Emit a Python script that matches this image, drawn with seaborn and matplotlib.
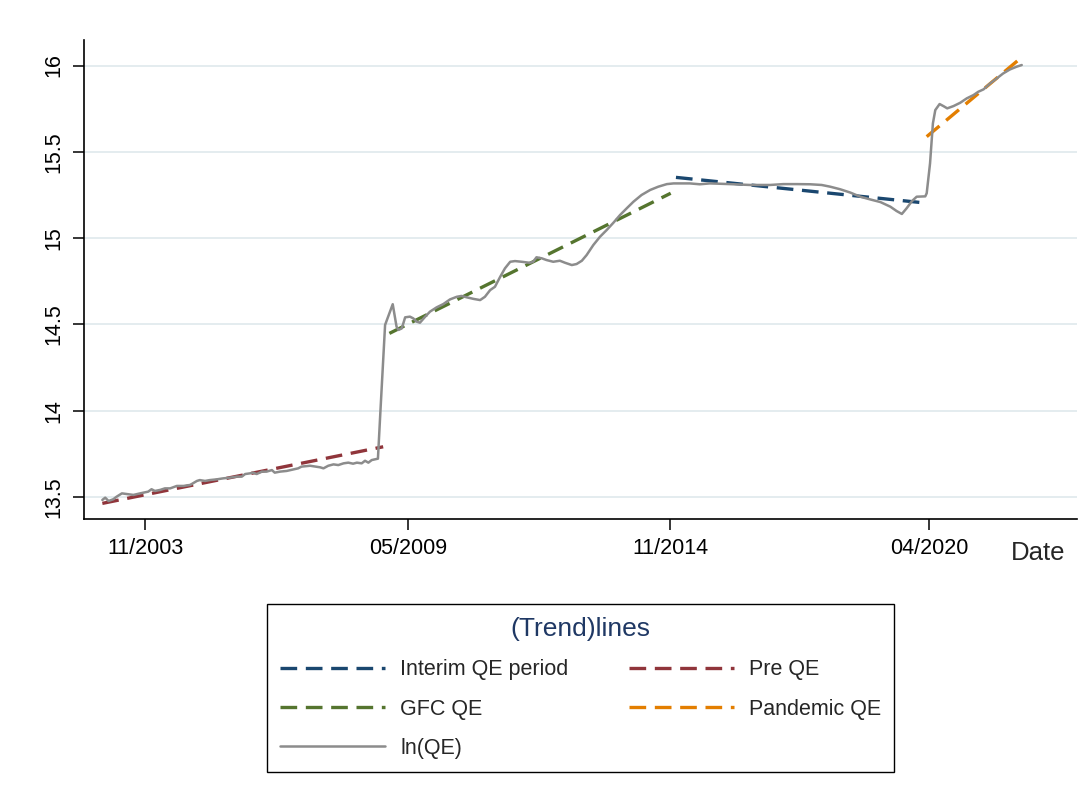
import matplotlib
matplotlib.use("Agg")
import matplotlib.pyplot as plt
import pandas as pd
import seaborn as sns

# ln(QE) series; x positions are decimal years
qe_year = [
    2002.94, 2003.00, 2003.07, 2003.17, 2003.24, 2003.35, 2003.45, 2003.59, 2003.73, 2003.90,
    2003.97, 2004.04, 2004.15, 2004.25, 2004.36, 2004.50, 2004.64, 2004.78, 2004.92, 2004.98,
    2005.09, 2005.19, 2005.33, 2005.47, 2005.61, 2005.75, 2005.86, 2005.93, 2006.03, 2006.10,
    2006.17, 2006.28, 2006.38, 2006.49, 2006.55, 2006.66, 2006.80, 2006.94, 2007.04, 2007.11,
    2007.29, 2007.50, 2007.57, 2007.67, 2007.78, 2007.88, 2007.99, 2008.09, 2008.19, 2008.27,
    2008.37, 2008.44, 2008.51, 2008.58, 2008.65, 2008.71, 2008.76, 2008.86, 2009.02, 2009.10,
    2009.14, 2009.21, 2009.28, 2009.38, 2009.45, 2009.52, 2009.59, 2009.70, 2009.80, 2009.94,
    2010.08, 2010.22, 2010.36, 2010.46, 2010.57, 2010.71, 2010.85, 2010.95, 2011.06, 2011.16,
    2011.27, 2011.37, 2011.48, 2011.58, 2011.72, 2011.89, 2011.96, 2012.03, 2012.14, 2012.24,
    2012.38, 2012.52, 2012.63, 2012.77, 2012.87, 2012.98, 2013.08, 2013.22, 2013.36, 2013.50,
    2013.64, 2013.78, 2013.92, 2014.06, 2014.23, 2014.41, 2014.58, 2014.76, 2014.90, 2015.10,
    2015.24, 2015.45, 2015.66, 2016.08, 2016.50, 2016.92, 2017.20, 2017.48, 2017.76, 2018.00,
    2018.18, 2018.39, 2018.60, 2018.81, 2019.02, 2019.23, 2019.44, 2019.57, 2019.68, 2019.78,
    2019.89, 2019.99, 2020.17, 2020.20, 2020.27, 2020.33, 2020.38, 2020.47, 2020.55, 2020.63,
    2020.76, 2020.90, 2021.04, 2021.18, 2021.28, 2021.39, 2021.53, 2021.67, 2021.80, 2021.94,
    2022.08, 2022.19,
]
ln_qe = [
    13.483, 13.496, 13.477, 13.487, 13.502, 13.521, 13.517, 13.512, 13.521, 13.531,
    13.545, 13.535, 13.541, 13.550, 13.550, 13.564, 13.564, 13.570, 13.593, 13.598,
    13.593, 13.598, 13.602, 13.608, 13.612, 13.618, 13.618, 13.633, 13.637, 13.641,
    13.633, 13.647, 13.647, 13.656, 13.641, 13.647, 13.651, 13.660, 13.666, 13.676,
    13.681, 13.672, 13.666, 13.681, 13.689, 13.685, 13.695, 13.699, 13.693, 13.699,
    13.695, 13.710, 13.699, 13.714, 13.718, 13.722, 13.985, 14.497, 14.617, 14.487,
    14.468, 14.477, 14.541, 14.545, 14.535, 14.516, 14.510, 14.545, 14.574, 14.599,
    14.618, 14.645, 14.660, 14.665, 14.657, 14.648, 14.641, 14.660, 14.699, 14.718,
    14.776, 14.825, 14.863, 14.867, 14.863, 14.857, 14.863, 14.889, 14.883, 14.873,
    14.863, 14.869, 14.857, 14.844, 14.850, 14.869, 14.902, 14.960, 15.008, 15.047,
    15.089, 15.134, 15.173, 15.211, 15.250, 15.279, 15.298, 15.313, 15.317, 15.317,
    15.317, 15.312, 15.317, 15.313, 15.308, 15.308, 15.313, 15.313, 15.312, 15.308,
    15.298, 15.283, 15.264, 15.240, 15.224, 15.209, 15.182, 15.157, 15.140, 15.173,
    15.214, 15.240, 15.242, 15.260, 15.433, 15.665, 15.742, 15.777, 15.765, 15.752,
    15.765, 15.784, 15.810, 15.829, 15.848, 15.862, 15.897, 15.926, 15.954, 15.977,
    15.993, 16.003,
]

# Fitted trend lines (start / end of each period)
interim_year = [2014.95, 2020.12]
interim_val = [15.352, 15.205]
pre_year = [2002.94, 2008.82]
pre_val = [13.463, 13.791]
gfc_year = [2008.95, 2014.84]
gfc_val = [14.448, 15.260]
pandemic_year = [2020.20, 2022.19]
pandemic_val = [15.588, 16.048]

x_tick_labels = ["11/2003", "05/2009", "11/2014", "04/2020"]
y_ticks = [13.5, 14, 14.5, 15, 15.5, 16]


def month_label_to_year(label):
    month, year = label.split("/")
    return int(year) + (int(month) - 1) / 12


sns.set_theme(style="white")
plt.rcParams["font.family"] = ["Liberation Sans", "DejaVu Sans"]

W, H = 1092, 802
fig = plt.figure(figsize=(W / 100, H / 100), dpi=100)
ax = fig.add_axes([84 / W, 1 - 519 / H, (1077 - 84) / W, (519 - 40) / H])

dash = (0, (5, 2.6))
trend_lw = 2.4
series = [
    ("Interim QE period", interim_year, interim_val, "#1a476f"),
    ("Pre QE", pre_year, pre_val, "#90353b"),
    ("GFC QE", gfc_year, gfc_val, "#55752f"),
    ("Pandemic QE", pandemic_year, pandemic_val, "#e37e00"),
]
for name, xs, ys, col in series:
    df = pd.DataFrame({"year": xs, "value": ys})
    sns.lineplot(data=df, x="year", y="value", ax=ax, color=col, lw=trend_lw,
                 linestyle=dash, label=name, errorbar=None)

qe_df = pd.DataFrame({"year": qe_year, "ln_qe": ln_qe})
sns.lineplot(data=qe_df, x="year", y="ln_qe", ax=ax, color="#8c8c8c", lw=1.8,
             label="ln(QE)", errorbar=None)

ax.set_xlim(2002.556, 2023.347)
ax.set_ylim(13.3725, 16.148)
ax.set_xlabel("")
ax.set_ylabel("")

ax.set_xticks([month_label_to_year(s) for s in x_tick_labels])
ax.set_xticklabels(x_tick_labels)
ax.set_yticks(y_ticks)
ax.set_yticklabels([f"{v:g}" for v in y_ticks], rotation=90, va="center")

ax.yaxis.grid(True, color="#e2eaee", lw=1.3)
ax.xaxis.grid(False)
ax.set_axisbelow(True)

sns.despine(ax=ax)
for side in ("left", "bottom"):
    ax.spines[side].set_color("black")
    ax.spines[side].set_linewidth(1.2)
ax.tick_params(axis="both", which="major", bottom=True, left=True, length=8,
               width=1.1, color="black", labelsize=15.5, labelcolor="black")
ax.tick_params(axis="x", pad=6)
ax.tick_params(axis="y", pad=6)

fig.text(1038 / W, 1 - 553 / H, "Date", fontsize=18.5, ha="center", va="center")

handles, labels = ax.get_legend_handles_labels()
ax.get_legend().remove()
lookup = dict(zip(labels, handles))
order = ["Interim QE period", "GFC QE", "ln(QE)", "Pre QE", "Pandemic QE"]
leg = fig.legend([lookup[k] for k in order], order, loc="upper center",
                 bbox_to_anchor=(580.5 / W, 1 - 604 / H), borderaxespad=0,
                 ncol=2, title="(Trend)lines", fontsize=15.5, title_fontsize=19,
                 frameon=True, fancybox=False, framealpha=1, edgecolor="black",
                 handlelength=4.9, handletextpad=0.7, columnspacing=2.8,
                 borderpad=0.6, labelspacing=0.85)
leg.get_title().set_color("#1f3864")
leg.get_frame().set_linewidth(1.0)

fig.savefig("out.png", dpi=100, facecolor="white")
